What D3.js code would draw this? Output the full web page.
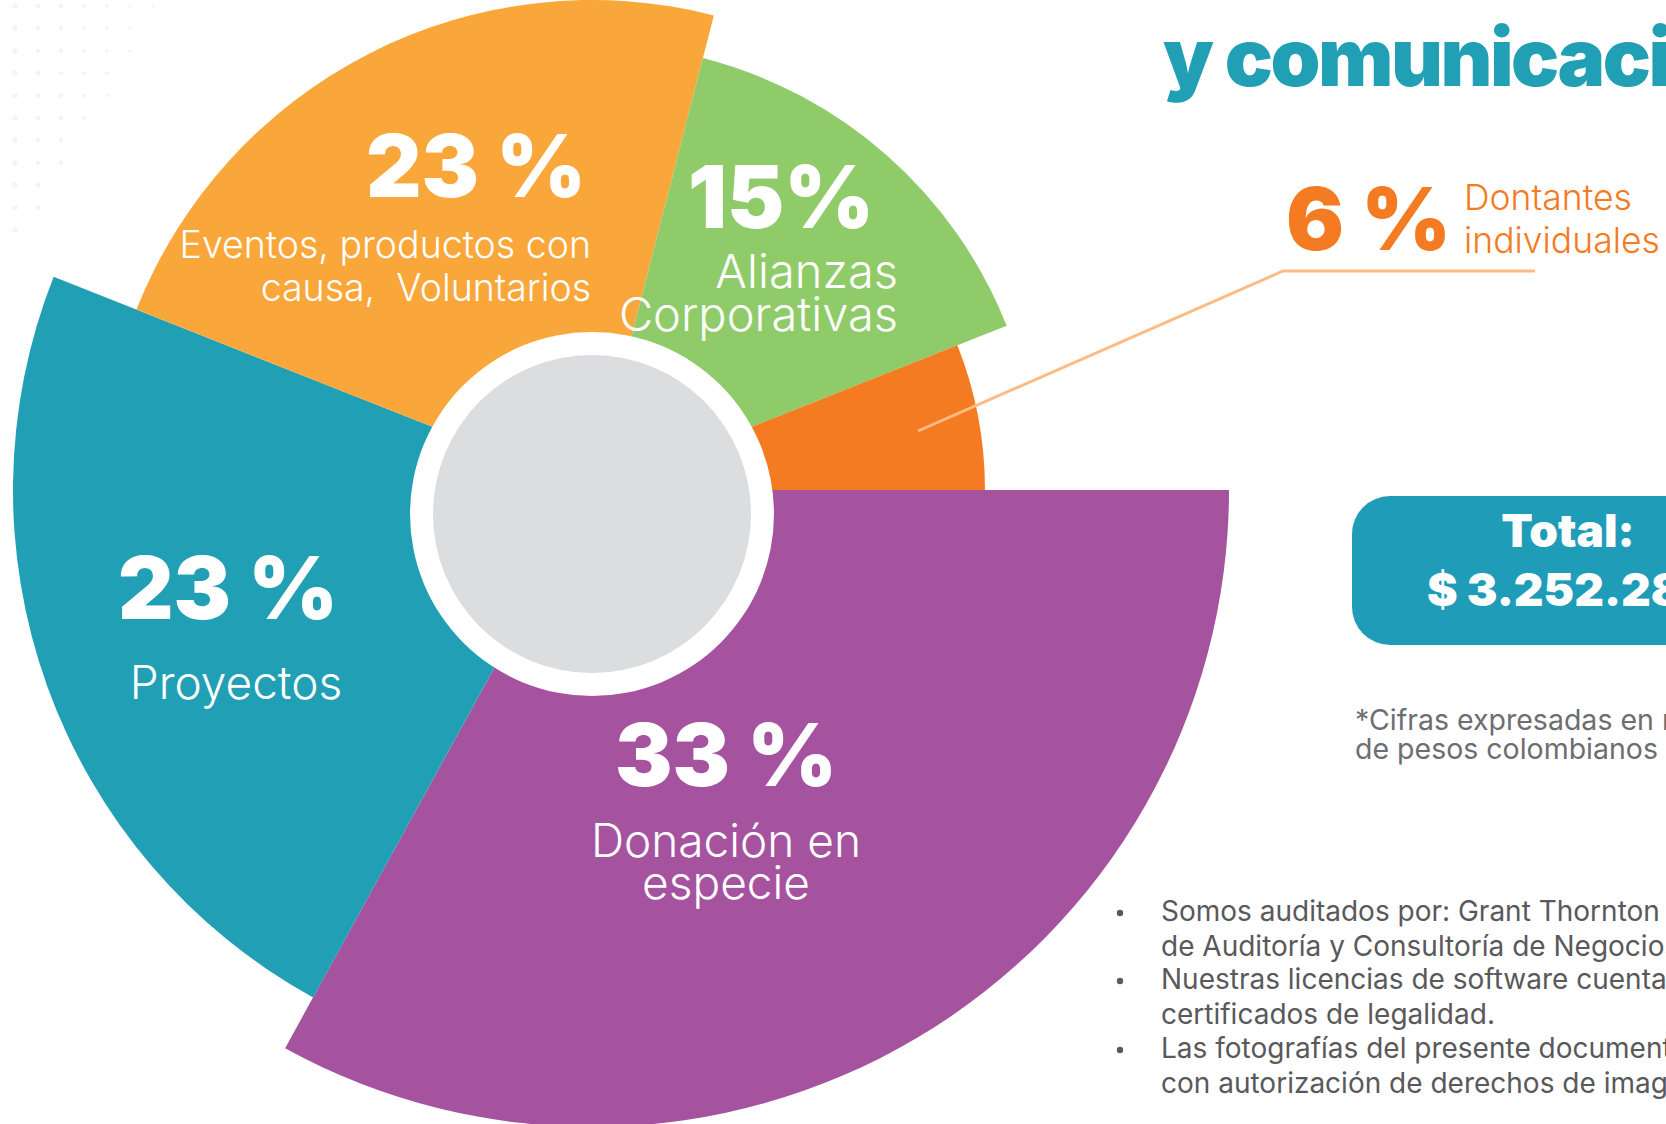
<!DOCTYPE html>
<meta charset="utf-8">
<style>
  body { margin: 0; background: #fff; overflow: hidden; }
  svg { display: block; }
  text { white-space: pre; }
  .pct { font-family: Inter, "Open Sans", sans-serif; font-weight: 900; }
  .lbl { font-family: Inter, "Open Sans", sans-serif; font-weight: 300; }
  .note { font-family: Inter, "Open Sans", sans-serif; font-weight: 400; }
</style>
<body>
<div id="canvas"></div>
<script src="https://d3js.org/d3.v7.min.js"></script>
<script>

// data
var categories = ["Donación en especie", "Proyectos", "Eventos, productos con causa, Voluntarios", "Alianzas Corporativas", "Dontantes individuales"];
var shares = [33, 23, 23, 15, 6];
var pctLabels = ["33 %", "23 %", "23 %", "15%", "6 %"];
var labelLines = [["Donación en", "especie"], ["Proyectos"], ["Eventos, productos con", "causa,  Voluntarios"], ["Alianzas", "Corporativas"], ["Dontantes", "individuales"]];
var titleText = "y comunicaci";
var totalLines = ["Total:", "$ 3.252.28"];
var noteLines = ["*Cifras expresadas en millones", "de pesos colombianos"];
var bulletLines = [
    ["Somos auditados por: Grant Thornton", "de Auditoría y Consultoría de Negocios"],
    ["Nuestras licencias de software cuentan con", "certificados de legalidad."],
    ["Las fotografías del presente documento", "con autorización de derechos de imagen"]
];

var W = 1666, H = 1124;
var cx = 592, cy = 490;

var color = d3.scaleOrdinal().domain(categories)
    .range(["#A5529F", "#219FB5", "#F9A73A", "#90CB6A", "#F47B22"]);
// each slice is pulled out to its own length
var outerR = d3.scaleOrdinal().domain(categories)
    .range([637, 579, 490, 446, 393]);

var svg = d3.select("#canvas").append("svg")
    .attr("width", W).attr("height", H);

// faint dot texture top-left
var dots = svg.append("g");
var rowsCols = [7, 6, 6, 5, 5, 4, 3, 3, 2, 2, 1];
rowsCols.forEach(function(n, r){
    d3.range(n).forEach(function(c){
        dots.append("circle")
            .attr("cx", 15 + c * 23).attr("cy", 6 + r * 22.4)
            .attr("r", 2.6 - c * 0.2)
            .attr("fill", "#F4F4F4");
    });
});

var pie = d3.pie().sort(null)
    .startAngle(Math.PI / 2).endAngle(Math.PI / 2 + 2 * Math.PI)
    .value(function(d){ return d; });

var arcs = pie(shares);
var arc = d3.arc().innerRadius(0)
    .outerRadius(function(d){ return outerR(categories[d.index]); });

var g = svg.append("g").attr("transform", "translate(" + cx + "," + cy + ")");

g.selectAll("path.slice")
    .data(arcs)
  .enter().append("path")
    .attr("class", "slice")
    .attr("d", arc)
    .attr("fill", function(d){ return color(categories[d.index]); });

// centre disc
svg.append("circle").attr("cx", cx).attr("cy", cy + 24).attr("r", 182).attr("fill", "#fff");
svg.append("circle").attr("cx", cx).attr("cy", cy + 24).attr("r", 159).attr("fill", "#DCDDDF");

// label layout
var layout = [
    {px: 726, py: 786, pa: "middle", lx: 726, ly: [857, 899], la: "middle", fill: "#fff", ls: 46},
    {px: 228, py: 619, pa: "middle", lx: 236, ly: [699], la: "middle", fill: "#fff", ls: 46},
    {px: 586, py: 197, pa: "end", lx: 591, ly: [258, 301], la: "end", fill: "#fff", ls: 37.5},
    {px: 874, py: 228, pa: "end", lx: 898, ly: [288, 331], la: "end", fill: "#fff", ls: 47},
    {px: 1286, py: 250, pa: "start", lx: 1464, ly: [210, 253], la: "start", fill: "#F47B22", ls: 35.5}
];

// leader line for small slice
svg.append("polyline")
    .attr("points", "918,431 1283,271 1535,271")
    .attr("fill", "none")
    .attr("stroke", "#FDBB85")
    .attr("stroke-width", 3);

arcs.forEach(function(d, i){
    var L = layout[i];
    svg.append("text")
        .attr("class", "pct")
        .attr("x", L.px).attr("y", L.py)
        .attr("text-anchor", L.pa)
        .attr("font-size", 86)
        .attr("fill", L.fill)
        .text(pctLabels[i]);
    labelLines[i].forEach(function(t, j){
        svg.append("text")
            .attr("class", "lbl")
            .attr("x", L.lx).attr("y", L.ly[j])
            .attr("text-anchor", L.la)
            .attr("font-size", L.ls)
            .attr("fill", L.fill)
            .text(t);
    });
});

// title
svg.append("text")
    .attr("class", "pct")
    .attr("x", 1163).attr("y", 86)
    .attr("font-size", 80)
    .attr("font-weight", 800)
    .attr("letter-spacing", -2.5)
    .attr("fill", "#219FB5")
    .text(titleText);

// total box
svg.append("rect")
    .attr("x", 1352).attr("y", 496)
    .attr("width", 400).attr("height", 149)
    .attr("rx", 38)
    .attr("fill", "#1E9CB8");
svg.append("text").attr("class", "pct")
    .attr("x", 1568).attr("y", 547).attr("text-anchor", "middle")
    .attr("font-size", 46).attr("font-weight", 700).attr("fill", "#fff")
    .text(totalLines[0]);
svg.append("text").attr("class", "pct")
    .attr("x", 1427).attr("y", 606)
    .attr("font-size", 46).attr("font-weight", 700).attr("fill", "#fff")
    .text(totalLines[1]);

// note
noteLines.forEach(function(t, j){
    svg.append("text").attr("class", "note")
        .attr("x", 1355).attr("y", 730 + j * 29)
        .attr("font-size", 28.5).attr("fill", "#6D6E71")
        .text(t);
});

// bullets
var by = [921, 989, 1058];
bulletLines.forEach(function(lines, k){
    svg.append("circle").attr("cx", 1120).attr("cy", by[k] - 8).attr("r", 3.2).attr("fill", "#59595B");
    lines.forEach(function(t, j){
        svg.append("text").attr("class", "note")
            .attr("x", 1161).attr("y", by[k] + j * 34.5)
            .attr("font-size", 28).attr("fill", "#59595B")
            .text(t);
    });
});

</script>
</body>
